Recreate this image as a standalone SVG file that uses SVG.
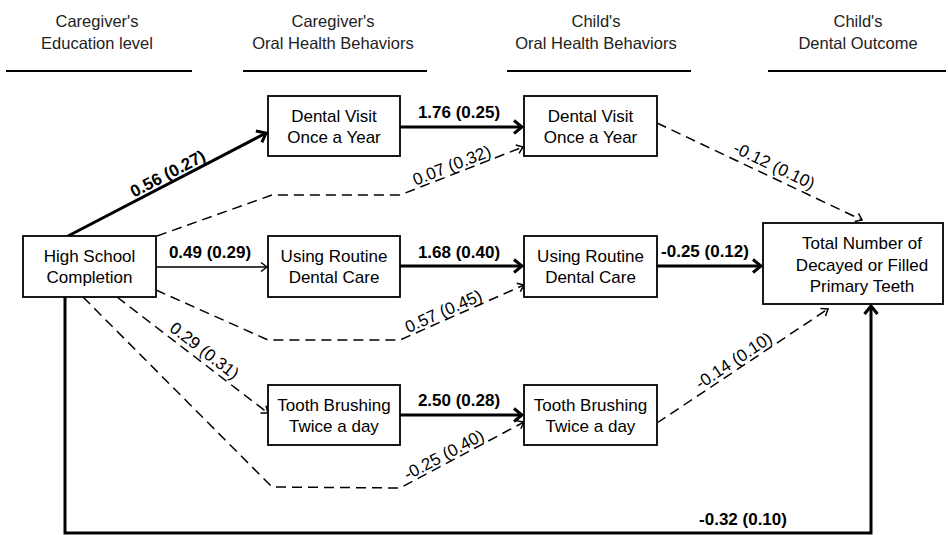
<svg xmlns="http://www.w3.org/2000/svg" width="948" height="535" viewBox="0 0 948 535">
<style>
text{font-family:"Liberation Sans",Arial,sans-serif;font-size:17px;fill:#000}
.hd{font-size:16.5px;fill:#222}
.c{text-anchor:middle}
.b{font-weight:bold}
.box{fill:#fff;stroke:#000;stroke-width:1.8}
.thick{fill:none;stroke:#000;stroke-width:3}
.thin{fill:none;stroke:#000;stroke-width:1.6}
.dash{fill:none;stroke:#000;stroke-width:1.5;stroke-dasharray:10,6}
.hl{stroke:#000;stroke-width:2}
</style>
<defs>
<marker id="ahT" markerUnits="userSpaceOnUse" viewBox="-12 -9 14 18" markerWidth="14" markerHeight="18" refX="0" refY="0" orient="auto">
<path d="M-8,-6.5 L0,0 L-8,6.5" fill="none" stroke="#000" stroke-width="3"/>
</marker>
<marker id="ahS" markerUnits="userSpaceOnUse" viewBox="-10 -7 12 14" markerWidth="12" markerHeight="14" refX="0" refY="0" orient="auto">
<path d="M-6,-4.5 L0,0 L-6,4.5" fill="none" stroke="#000" stroke-width="1.5"/>
</marker>
</defs>

<g id="headers">
<text class="hd c" x="97" y="27">Caregiver's</text>
<text class="hd c" x="97" y="49">Education level</text>
<text class="hd c" x="333" y="27">Caregiver's</text>
<text class="hd c" x="333" y="49">Oral Health Behaviors</text>
<text class="hd c" x="596" y="27">Child's</text>
<text class="hd c" x="596" y="49">Oral Health Behaviors</text>
<text class="hd c" x="858" y="27">Child's</text>
<text class="hd c" x="858" y="49">Dental Outcome</text>
<line class="hl" x1="6" y1="71" x2="192" y2="71"/>
<line class="hl" x1="243" y1="71" x2="427" y2="71"/>
<line class="hl" x1="507" y1="71" x2="691" y2="71"/>
<line class="hl" x1="768" y1="71" x2="946" y2="71"/>
</g>

<g id="connectors">
<path class="thick" d="M68,236 L266,133" marker-end="url(#ahT)"/>
<path class="thick" d="M400,127 L522,127" marker-end="url(#ahT)"/>
<path class="thin" d="M156,267 L267,267" marker-end="url(#ahS)"/>
<path class="thick" d="M400,266 L522,266" marker-end="url(#ahT)"/>
<path class="thick" d="M657,266 L761,266" marker-end="url(#ahT)"/>
<path class="thick" d="M400,415 L522,415" marker-end="url(#ahT)"/>
<path class="thick" d="M65,297 L65,533 L871,533 L871,306" marker-end="url(#ahT)"/>
<path class="dash" d="M157,236 L272,195 L400,195 L523,147" marker-end="url(#ahS)"/>
<path class="dash" d="M156,290 L268,340 L400,340 L524,285" marker-end="url(#ahS)"/>
<path class="dash" d="M117,297 L268,413" marker-end="url(#ahS)"/>
<path class="dash" d="M83,297 L272,487 L400,488 L524,422" marker-end="url(#ahS)"/>
<path class="dash" d="M657,123 L862,220" marker-end="url(#ahS)"/>
<path class="dash" d="M657,423 L828,309" marker-end="url(#ahS)"/>

<text class="b c" transform="translate(170.4,178.8) rotate(-27.5)">0.56 (0.27)</text>
<text class="b c" x="459" y="118">1.76 (0.25)</text>
<text class="b c" x="210" y="258">0.49 (0.29)</text>
<text class="b c" x="459" y="258">1.68 (0.40)</text>
<text class="b c" x="705" y="257">-0.25 (0.12)</text>
<text class="b c" x="459" y="406">2.50 (0.28)</text>
<text class="b c" x="743" y="525">-0.32 (0.10)</text>
<text class="c" transform="translate(453.9,170.7) rotate(-21.3)">0.07 (0.32)</text>
<text class="c" transform="translate(445.8,316.5) rotate(-23.9)">0.57 (0.45)</text>
<text class="c" transform="translate(446.6,459.9) rotate(-28)">-0.25 (0.40)</text>
<text class="c" transform="translate(201,355.2) rotate(37.5)">0.29 (0.31)</text>
<text class="c" transform="translate(771.7,170.9) rotate(25.6)">-0.12 (0.10)</text>
<text class="c" transform="translate(736.8,365.5) rotate(-33.5)">-0.14 (0.10)</text>
</g>

<g id="hs">
<rect class="box" x="23" y="236" width="133" height="61"/>
<text class="c" x="89.5" y="262">High School</text>
<text class="c" x="89.5" y="283">Completion</text>
</g>
<g id="cg-visit">
<rect class="box" x="268" y="96" width="132" height="60"/>
<text class="c" x="334" y="122">Dental Visit</text>
<text class="c" x="334" y="143">Once a Year</text>
</g>
<g id="cg-routine">
<rect class="box" x="268" y="236" width="132" height="61"/>
<text class="c" x="334" y="262">Using Routine</text>
<text class="c" x="334" y="283">Dental Care</text>
</g>
<g id="cg-brush">
<rect class="box" x="268" y="385" width="132" height="60"/>
<text class="c" x="334" y="411">Tooth Brushing</text>
<text class="c" x="334" y="432">Twice a day</text>
</g>
<g id="ch-visit">
<rect class="box" x="524" y="96" width="133" height="60"/>
<text class="c" x="590.5" y="122">Dental Visit</text>
<text class="c" x="590.5" y="143">Once a Year</text>
</g>
<g id="ch-routine">
<rect class="box" x="524" y="236" width="133" height="61"/>
<text class="c" x="590.5" y="262">Using Routine</text>
<text class="c" x="590.5" y="283">Dental Care</text>
</g>
<g id="ch-brush">
<rect class="box" x="524" y="385" width="133" height="60"/>
<text class="c" x="590.5" y="411">Tooth Brushing</text>
<text class="c" x="590.5" y="432">Twice a day</text>
</g>
<g id="outcome">
<rect class="box" x="763" y="223" width="180" height="81"/>
<text class="c" x="862" y="249">Total Number of</text>
<text class="c" x="862" y="271">Decayed or Filled</text>
<text class="c" x="862" y="292">Primary Teeth</text>
</g>
</svg>
